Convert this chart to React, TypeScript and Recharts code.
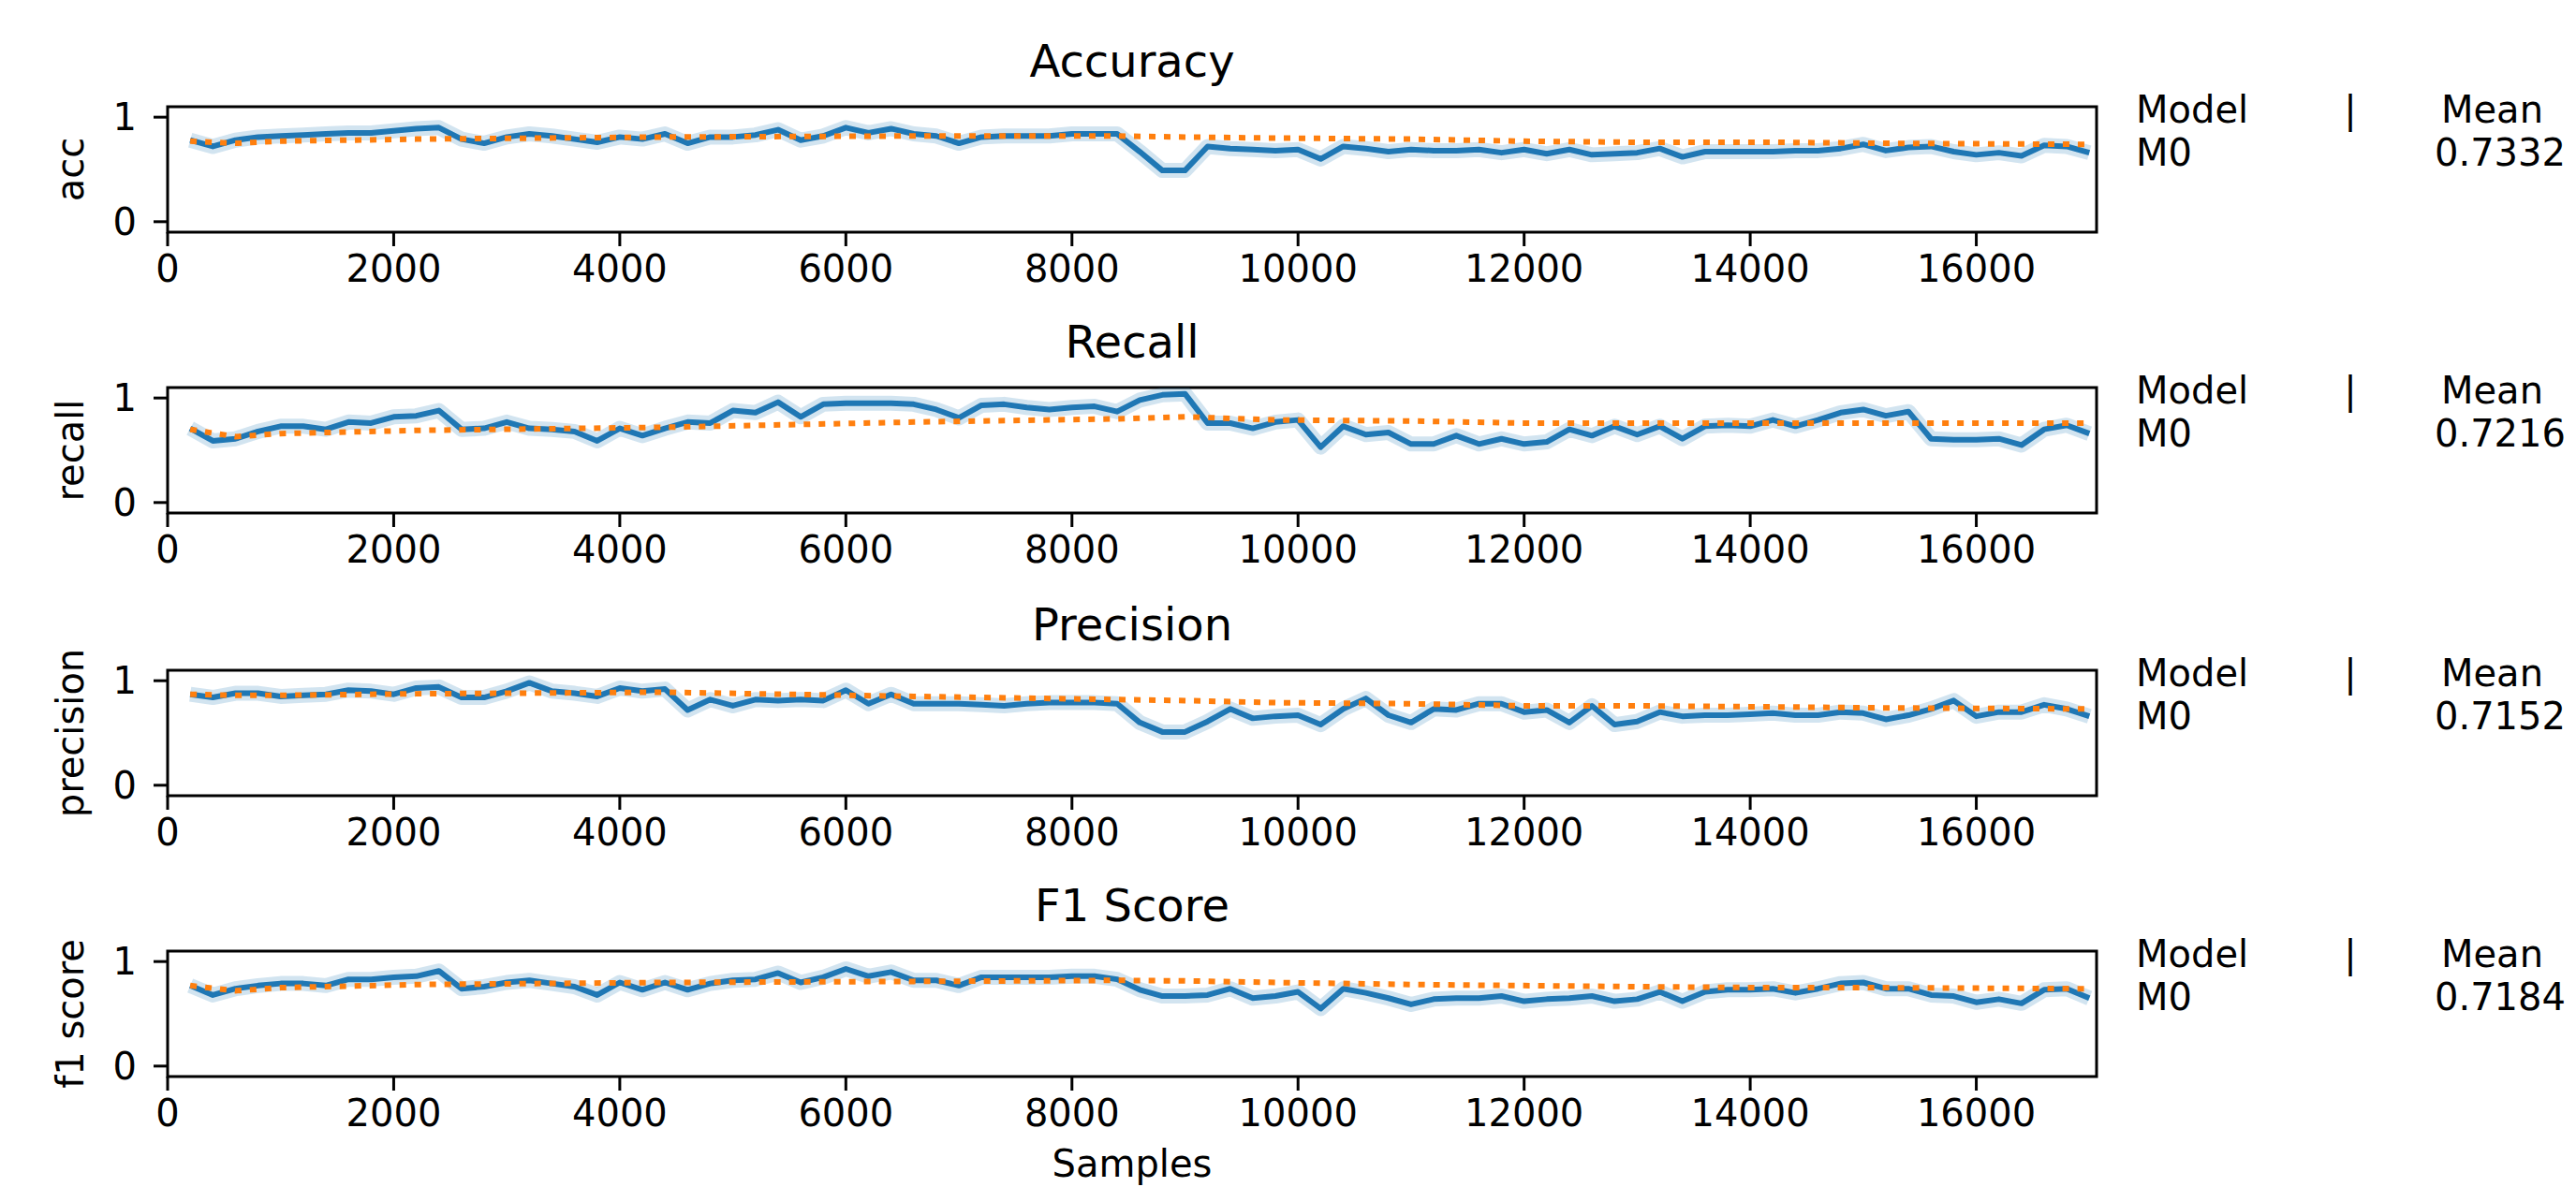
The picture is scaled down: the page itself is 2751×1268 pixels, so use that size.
import React from "react";
import { LineChart, Line, XAxis, YAxis, ReferenceArea } from "recharts";

const samples = [
  200, 400, 600, 800, 1000, 1200, 1400, 1600, 1800, 2000,
  2200, 2400, 2600, 2800, 3000, 3200, 3400, 3600, 3800, 4000,
  4200, 4400, 4600, 4800, 5000, 5200, 5400, 5600, 5800, 6000,
  6200, 6400, 6600, 6800, 7000, 7200, 7400, 7600, 7800, 8000,
  8200, 8400, 8600, 8800, 9000, 9200, 9400, 9600, 9800, 10000,
  10200, 10400, 10600, 10800, 11000, 11200, 11400, 11600, 11800, 12000,
  12200, 12400, 12600, 12800, 13000, 13200, 13400, 13600, 13800, 14000,
  14200, 14400, 14600, 14800, 15000, 15200, 15400, 15600, 15800, 16000,
  16200, 16400, 16600, 16800, 17000,
];

const accuracy = [
  0.78, 0.72, 0.78, 0.81, 0.82, 0.83, 0.84, 0.85, 0.85, 0.87,
  0.89, 0.9, 0.79, 0.75, 0.81, 0.84, 0.82, 0.79, 0.76, 0.81,
  0.79, 0.84, 0.75, 0.81, 0.81, 0.83, 0.88, 0.78, 0.82, 0.9,
  0.85, 0.89, 0.84, 0.82, 0.75, 0.81, 0.82, 0.82, 0.82, 0.84,
  0.84, 0.84, 0.67, 0.49, 0.49, 0.72, 0.7, 0.69, 0.68, 0.69,
  0.6, 0.72, 0.7, 0.67, 0.69, 0.68, 0.68, 0.69, 0.66, 0.69,
  0.65, 0.69, 0.64, 0.65, 0.66, 0.7, 0.62, 0.67, 0.67, 0.67,
  0.67, 0.68, 0.68, 0.7, 0.74, 0.68, 0.71, 0.72, 0.67, 0.64,
  0.66, 0.63, 0.73, 0.72, 0.66,
];

const recall = [
  0.71, 0.59, 0.61, 0.68, 0.73, 0.73, 0.7, 0.77, 0.76, 0.82,
  0.83, 0.88, 0.7, 0.71, 0.77, 0.71, 0.7, 0.68, 0.59, 0.71,
  0.64, 0.71, 0.77, 0.76, 0.88, 0.86, 0.96, 0.82, 0.94, 0.95,
  0.95, 0.95, 0.94, 0.89, 0.81, 0.93, 0.94, 0.91, 0.89, 0.91,
  0.92, 0.87, 0.98, 1.03, 1.04, 0.76, 0.76, 0.71, 0.77, 0.79,
  0.53, 0.73, 0.65, 0.67, 0.56, 0.56, 0.64, 0.56, 0.61, 0.56,
  0.58, 0.7, 0.64, 0.73, 0.65, 0.73, 0.61, 0.73, 0.74, 0.73,
  0.79, 0.73, 0.79, 0.86, 0.89, 0.83, 0.87, 0.61, 0.6, 0.6,
  0.61, 0.55, 0.7, 0.74, 0.66,
];

const precision = [
  0.87, 0.84, 0.88, 0.88, 0.85, 0.86, 0.87, 0.91, 0.9, 0.87,
  0.93, 0.94, 0.84, 0.84, 0.9, 0.98, 0.9, 0.88, 0.85, 0.93,
  0.9, 0.92, 0.72, 0.82, 0.76, 0.82, 0.81, 0.82, 0.81, 0.91,
  0.78, 0.87, 0.78, 0.78, 0.78, 0.77, 0.76, 0.78, 0.79, 0.79,
  0.79, 0.78, 0.6, 0.51, 0.51, 0.61, 0.73, 0.64, 0.66, 0.67,
  0.58, 0.73, 0.83, 0.67, 0.6, 0.73, 0.72, 0.78, 0.78, 0.7,
  0.72, 0.6, 0.76, 0.58, 0.61, 0.7, 0.66, 0.67, 0.67, 0.68,
  0.69, 0.67, 0.67, 0.7, 0.69, 0.63, 0.67, 0.73, 0.81, 0.66,
  0.7, 0.7, 0.77, 0.73, 0.66,
];

const f1 = [
  0.77, 0.68, 0.74, 0.77, 0.79, 0.79, 0.77, 0.83, 0.83, 0.85,
  0.86, 0.91, 0.74, 0.76, 0.8, 0.82, 0.79, 0.76, 0.68, 0.8,
  0.73, 0.8, 0.73, 0.79, 0.82, 0.83, 0.89, 0.8, 0.85, 0.93,
  0.86, 0.9, 0.82, 0.82, 0.77, 0.85, 0.85, 0.85, 0.85, 0.86,
  0.86, 0.83, 0.73, 0.67, 0.67, 0.68, 0.74, 0.65, 0.67, 0.71,
  0.55, 0.74, 0.7, 0.65, 0.59, 0.64, 0.65, 0.65, 0.67, 0.62,
  0.64, 0.65, 0.67, 0.62, 0.64, 0.71, 0.62, 0.71, 0.73, 0.73,
  0.74, 0.7, 0.74, 0.79, 0.8, 0.74, 0.74, 0.68, 0.67, 0.61,
  0.64, 0.6, 0.73, 0.74, 0.65,
];

// running mean
const meanSamples = [200, 600, 1000, 2200, 4400, 6600, 8400, 9000, 9800, 11000, 12000, 13000, 14200, 15200, 17000];
const accuracyMean = [0.77, 0.75, 0.77, 0.79, 0.81, 0.82, 0.82, 0.81, 0.8, 0.79, 0.77, 0.76, 0.76, 0.75, 0.74];
const recallMean = [0.7, 0.63, 0.66, 0.69, 0.72, 0.77, 0.8, 0.82, 0.79, 0.78, 0.76, 0.76, 0.76, 0.76, 0.76];
const precisionMean = [0.87, 0.86, 0.86, 0.875, 0.89, 0.85, 0.82, 0.81, 0.79, 0.78, 0.76, 0.76, 0.75, 0.74, 0.73];
const f1Mean = [0.77, 0.72, 0.75, 0.78, 0.8, 0.81, 0.82, 0.815, 0.8, 0.78, 0.77, 0.76, 0.75, 0.75, 0.74];

const xTicks = [0, 2000, 4000, 6000, 8000, 10000, 12000, 14000, 16000];
const X_MAX = 17064;

const panels = [
  { title: "Accuracy", yLabel: "acc", values: accuracy, mean: accuracyMean, meanText: "0.7332", plotTop: 114 },
  { title: "Recall", yLabel: "recall", values: recall, mean: recallMean, meanText: "0.7216", plotTop: 414 },
  { title: "Precision", yLabel: "precision", values: precision, mean: precisionMean, meanText: "0.7152", plotTop: 716 },
  { title: "F1 Score", yLabel: "f1 score", values: f1, mean: f1Mean, meanText: "0.7184", plotTop: 1016 },
];

const FONT = "'DejaVu Sans', sans-serif";
const PLOT_LEFT = 179;
const PLOT_RIGHT = 2239;
const PLOT_H = 134;

function Text({ x, y, size = 40, anchor = "left", children, rotate = false }: any) {
  const style: React.CSSProperties = {
    position: "absolute",
    top: y - size / 2,
    fontSize: size,
    lineHeight: `${size}px`,
    whiteSpace: "nowrap",
    color: "#000",
  };
  if (rotate) {
    return (
      <div style={{ ...style, left: x, transform: "translate(-50%, 0) rotate(-90deg)" }}>{children}</div>
    );
  }
  if (anchor === "center") {
    return <div style={{ ...style, left: x, transform: "translateX(-50%)" }}>{children}</div>;
  }
  return <div style={{ ...style, left: x }}>{children}</div>;
}

function Panel({ p }: any) {
  const rows = samples.map((s, i) => ({ s, v: p.values[i] }));
  const meanRows = meanSamples.map((s, i) => ({ s, m: p.mean[i] }));
  const mid = p.plotTop + PLOT_H / 2;
  return (
    <>
      <div style={{ position: "absolute", left: 0, top: p.plotTop - 60 }}>
        <LineChart
          width={2751}
          height={300}
          data={rows}
          margin={{ top: 60, right: 2751 - PLOT_RIGHT, bottom: 300 - 60 - PLOT_H - 60, left: 0 }}
        >
          <XAxis
            dataKey="s"
            type="number"
            domain={[0, X_MAX]}
            ticks={xTicks}
            allowDataOverflow
            height={60}
            axisLine={false}
            tickLine={{ stroke: "#000", strokeWidth: 3 }}
            tickSize={15}
            tickMargin={10}
            tick={{ fontSize: 40, fill: "#000", fontFamily: FONT }}
          />
          <YAxis
            type="number"
            domain={[-0.1, 1.1]}
            ticks={[0, 1]}
            allowDataOverflow
            width={PLOT_LEFT}
            axisLine={false}
            tickLine={{ stroke: "#000", strokeWidth: 3 }}
            tickSize={15}
            tickMargin={18}
            tick={{ fontSize: 40, fill: "#000", fontFamily: FONT }}
          />
          <Line
            dataKey="v"
            name="band"
            stroke="#1f77b4"
            strokeOpacity={0.2}
            strokeWidth={16}
            strokeLinejoin="round"
            dot={false}
            isAnimationActive={false}
          />
          <Line
            dataKey="v"
            name="M0"
            stroke="#1f77b4"
            strokeWidth={6}
            strokeLinejoin="round"
            dot={false}
            isAnimationActive={false}
          />
          <Line
            data={meanRows}
            dataKey="m"
            name="mean"
            stroke="#ff7f0e"
            strokeWidth={6}
            strokeDasharray="7 9"
            dot={false}
            isAnimationActive={false}
          />
          <ReferenceArea x1={0} x2={X_MAX} y1={-0.1} y2={1.1} fill="none" stroke="#000" strokeWidth={3} />
        </LineChart>
      </div>
      <Text x={(PLOT_LEFT + PLOT_RIGHT) / 2} y={p.plotTop - 49} size={48} anchor="center">{p.title}</Text>
      <Text x={75} y={mid} rotate>{p.yLabel}</Text>
      <Text x={2281} y={p.plotTop + 3}>Model</Text>
      <Text x={2510} y={p.plotTop + 3} anchor="center">|</Text>
      <Text x={2607} y={p.plotTop + 3}>Mean</Text>
      <Text x={2281} y={p.plotTop + 49}>M0</Text>
      <Text x={2600} y={p.plotTop + 49}>{p.meanText}</Text>
    </>
  );
}

export default function App() {
  return (
    <div
      style={{
        position: "fixed",
        left: 0,
        top: 0,
        width: 2751,
        height: 1268,
        background: "#fff",
        overflow: "hidden",
        fontFamily: FONT,
      }}
    >
      {panels.map((p) => (
        <Panel key={p.title} p={p} />
      ))}
      <Text x={(PLOT_LEFT + PLOT_RIGHT) / 2} y={1243} anchor="center">Samples</Text>
    </div>
  );
}
